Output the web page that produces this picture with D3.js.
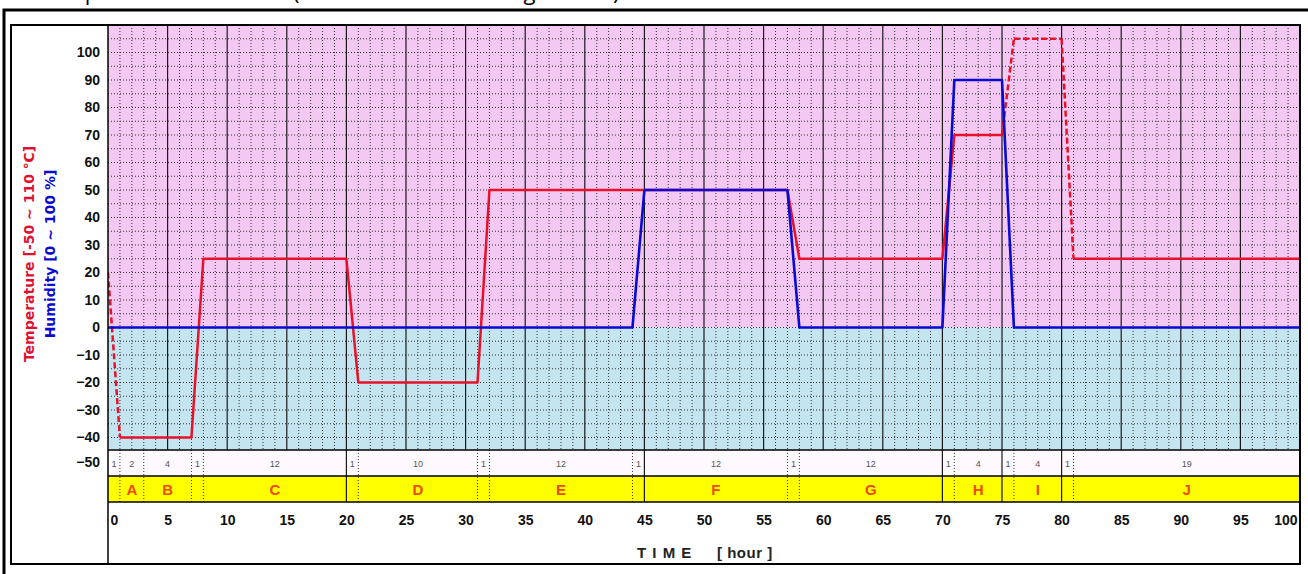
<!DOCTYPE html>
<html><head><meta charset="utf-8">
<script src="https://cdn.jsdelivr.net/npm/d3@7"></script>
<style>body{margin:0;background:#fff}svg{display:block}</style>
</head><body><svg id="c" width="1308" height="574"></svg>
<script>
// ---- data ----
const hours       = [0, 1, 3, 7, 8, 20, 21, 31, 32, 44, 45, 57, 58, 70, 71, 75, 76, 80, 81, 100];
const temperature = [20,-40,-40,-40,25,25,-20,-20,50, 50, 50, 50, 25, 25, 70, 70, 105,105,25, 25];
const humidity    = [0, 0, 0, 0, 0, 0, 0, 0, 0, 0, 50, 50, 0, 0, 90, 90, 0, 0, 0, 0];
const uncontrolledRanges = [[0, 1], [75, 81]];
const stageDurations = [1, 2, 4, 1, 12, 1, 10, 1, 12, 1, 12, 1, 12, 1, 4, 1, 4, 1, 19];
const stageLabels    = ["", "A", "B", "", "C", "", "D", "", "E", "", "F", "", "G", "", "H", "", "I", "", "J"];
const xTicks = d3.range(0, 101, 5);
const yTicks = d3.range(-50, 101, 10);
const tempAxisTitle = "Temperature [-50 ~ 110 \u2103]";
const humAxisTitle = "Humidity [0 ~ 100 %]";
const xAxisTitleA = "T I M E";
const xAxisTitleB = "[ hour ]";
const titleParts = ["Temperature", "(", "~ Long", ")"];

// ---- layout ----
const svg = d3.select("#c");
const L = 108, R = 1300, T = 25, B = 450;
const rowDurTop = 450, rowStageTop = 476, rowStageBot = 502, frameBot = 564;
const x = d3.scaleLinear().domain([0, 100]).range([L, R]);
const y = d3.scaleLinear().domain([-50, 110]).range([465, 25]);
const numFont = "'Liberation Sans', Arial, sans-serif";

// partially visible title at very top (cut off by the window edge, as in the reference)
const tt = svg.append("text").attr("y", 0).attr("font-family", "'Open Sans', sans-serif").attr("font-size", 22).attr("fill", "#000");
const titleX = [40, 293, 467, 613];
titleParts.forEach((p, i) => tt.append("tspan").attr("x", titleX[i]).text(p));

// outer frames
svg.append("rect").attr("x", 4).attr("y", 10).attr("width", 1330).attr("height", 600)
  .attr("fill", "none").attr("stroke", "#000").attr("stroke-width", 3);
svg.append("rect").attr("x", 11).attr("y", T).attr("width", R - 11).attr("height", frameBot - T)
  .attr("fill", "none").attr("stroke", "#000").attr("stroke-width", 2);

// backgrounds
svg.append("rect").attr("x", L).attr("y", T).attr("width", R - L).attr("height", y(0) - T).attr("fill", "#f3c9f3");
svg.append("rect").attr("x", L).attr("y", y(0)).attr("width", R - L).attr("height", B - y(0)).attr("fill", "#c4e5f0");
svg.append("rect").attr("x", L).attr("y", rowDurTop).attr("width", R - L).attr("height", rowStageTop - rowDurTop).attr("fill", "#fef9fe");
svg.append("rect").attr("x", L).attr("y", rowStageTop).attr("width", R - L).attr("height", rowStageBot - rowStageTop).attr("fill", "#ffff00");

// grid
const g = svg.append("g");
d3.range(1, 100).filter(h => h % 5 !== 0).forEach(h => {
  g.append("line").attr("x1", x(h)).attr("x2", x(h)).attr("y1", T).attr("y2", B)
    .attr("stroke", "#333").attr("stroke-width", 1).attr("stroke-dasharray", "1,2");
});
d3.range(-40, 110, 5).forEach(v => {
  g.append("line").attr("x1", L).attr("x2", R).attr("y1", y(v)).attr("y2", y(v))
    .attr("stroke", "#333").attr("stroke-width", 1).attr("stroke-dasharray", "1,2");
});
d3.range(5, 100, 5).forEach(h => {
  g.append("line").attr("x1", x(h)).attr("x2", x(h)).attr("y1", T).attr("y2", B)
    .attr("stroke", "#1a1a1a").attr("stroke-width", 1.2);
});

// series
svg.append("clipPath").attr("id", "pc").append("rect")
  .attr("x", L).attr("y", T).attr("width", R - L).attr("height", B - T);
const lines = svg.append("g").attr("clip-path", "url(#pc)");
const isUncontrolled = (a, b) => uncontrolledRanges.some(r => a >= r[0] && b <= r[1]);
const tPts = hours.map((h, i) => [h, temperature[i]]);
const lineGen = d3.line().x(d => x(d[0])).y(d => y(d[1]));
let run = [];
const runs = [], dashed = [];
for (let i = 0; i < tPts.length - 1; i++) {
  const a = tPts[i], b = tPts[i + 1];
  if (isUncontrolled(a[0], b[0])) {
    if (run.length) { runs.push(run); run = []; }
    dashed.push([a, b]);
  } else {
    if (!run.length) run.push(a);
    run.push(b);
  }
}
if (run.length) runs.push(run);
runs.forEach(r => lines.append("path").attr("d", lineGen(r)).attr("fill", "none")
  .attr("stroke", "#e8102a").attr("stroke-width", 2.5).attr("stroke-linejoin", "round"));
dashed.forEach(s => lines.append("path").attr("d", lineGen(s)).attr("fill", "none")
  .attr("stroke", "#e8102a").attr("stroke-width", 2.5).attr("stroke-dasharray", "6,3"));
lines.append("path").attr("d", lineGen(hours.map((h, i) => [h, humidity[i]]))).attr("fill", "none")
  .attr("stroke", "#0a0ad0").attr("stroke-width", 2.6).attr("stroke-linejoin", "round");

// stage rows
let cum = 0;
const bounds = [];
stageDurations.forEach((d, i) => {
  const a = cum, b = cum + d; cum = b;
  svg.append("text").attr("x", x((a + b) / 2)).attr("y", 467).attr("text-anchor", "middle")
    .attr("font-family", numFont).attr("font-size", 9).attr("fill", "#555").text(d);
  if (stageLabels[i]) svg.append("text").attr("x", x((a + b) / 2)).attr("y", 495).attr("text-anchor", "middle")
    .attr("font-family", numFont).attr("font-weight", "bold").attr("font-size", 15).attr("fill", "#f04a00").text(stageLabels[i]);
  if (b < 100) bounds.push(b);
});
bounds.forEach(b => {
  const solid = b % 5 === 0;
  svg.append("line").attr("x1", x(b)).attr("x2", x(b)).attr("y1", rowDurTop).attr("y2", rowStageBot)
    .attr("stroke", solid ? "#1a1a1a" : "#333").attr("stroke-width", solid ? 1.2 : 1)
    .attr("stroke-dasharray", solid ? null : "1,2");
});

// borders
[T, B, rowStageTop, rowStageBot].forEach(yy => svg.append("line").attr("x1", L).attr("x2", R)
  .attr("y1", yy).attr("y2", yy).attr("stroke", "#000").attr("stroke-width", yy === T ? 2 : 1.3));
svg.append("line").attr("x1", L).attr("x2", L).attr("y1", T).attr("y2", frameBot).attr("stroke", "#000").attr("stroke-width", 1.5);
svg.append("line").attr("x1", R).attr("x2", R).attr("y1", T).attr("y2", frameBot).attr("stroke", "#000").attr("stroke-width", 2);

// axes
const xa = svg.append("g").attr("transform", `translate(0,${512})`)
  .call(d3.axisBottom(x).tickValues(xTicks).tickSize(0).tickFormat(d3.format("d")));
xa.select(".domain").remove();
xa.selectAll("text").attr("font-family", numFont).attr("font-size", 14).attr("font-weight", "bold").attr("fill", "#111")
  .attr("dy", "0.71em")
  .attr("text-anchor", d => d === 0 ? "start" : d === 100 ? "end" : "middle")
  .attr("dx", d => d === 0 ? 2 : d === 100 ? -3 : 0);
const ya = svg.append("g").attr("transform", `translate(${L - 8},0)`)
  .call(d3.axisLeft(y).tickValues(yTicks).tickSize(0).tickFormat(d3.format("d")));
ya.select(".domain").remove();
ya.selectAll("text").attr("font-family", numFont).attr("font-size", 14).attr("font-weight", "bold").attr("fill", "#111")
  .attr("x", 0).attr("text-anchor", "end")
  .attr("dy", d => d === -50 ? "0.1em" : "0.32em");

// axis titles
svg.append("text").attr("transform", "translate(29,254) rotate(-90)").attr("text-anchor", "middle").attr("dy", "0.35em")
  .attr("font-family", "'DejaVu Sans', sans-serif").attr("font-weight", "bold").attr("font-size", 14)
  .attr("fill", "#e01030").text(tempAxisTitle);
svg.append("text").attr("transform", "translate(50,254) rotate(-90)").attr("text-anchor", "middle").attr("dy", "0.35em")
  .attr("font-family", "'DejaVu Sans', sans-serif").attr("font-weight", "bold").attr("font-size", 14)
  .attr("fill", "#0a0ad0").text(humAxisTitle);
svg.append("text").attr("x", 637).attr("y", 558).attr("font-family", numFont).attr("font-weight", "bold")
  .attr("font-size", 15).attr("letter-spacing", 1).attr("fill", "#222").text(xAxisTitleA);
svg.append("text").attr("x", 717).attr("y", 558).attr("font-family", numFont).attr("font-weight", "bold")
  .attr("font-size", 15).attr("letter-spacing", 0.5).attr("fill", "#222").text(xAxisTitleB);
</script></body></html>
